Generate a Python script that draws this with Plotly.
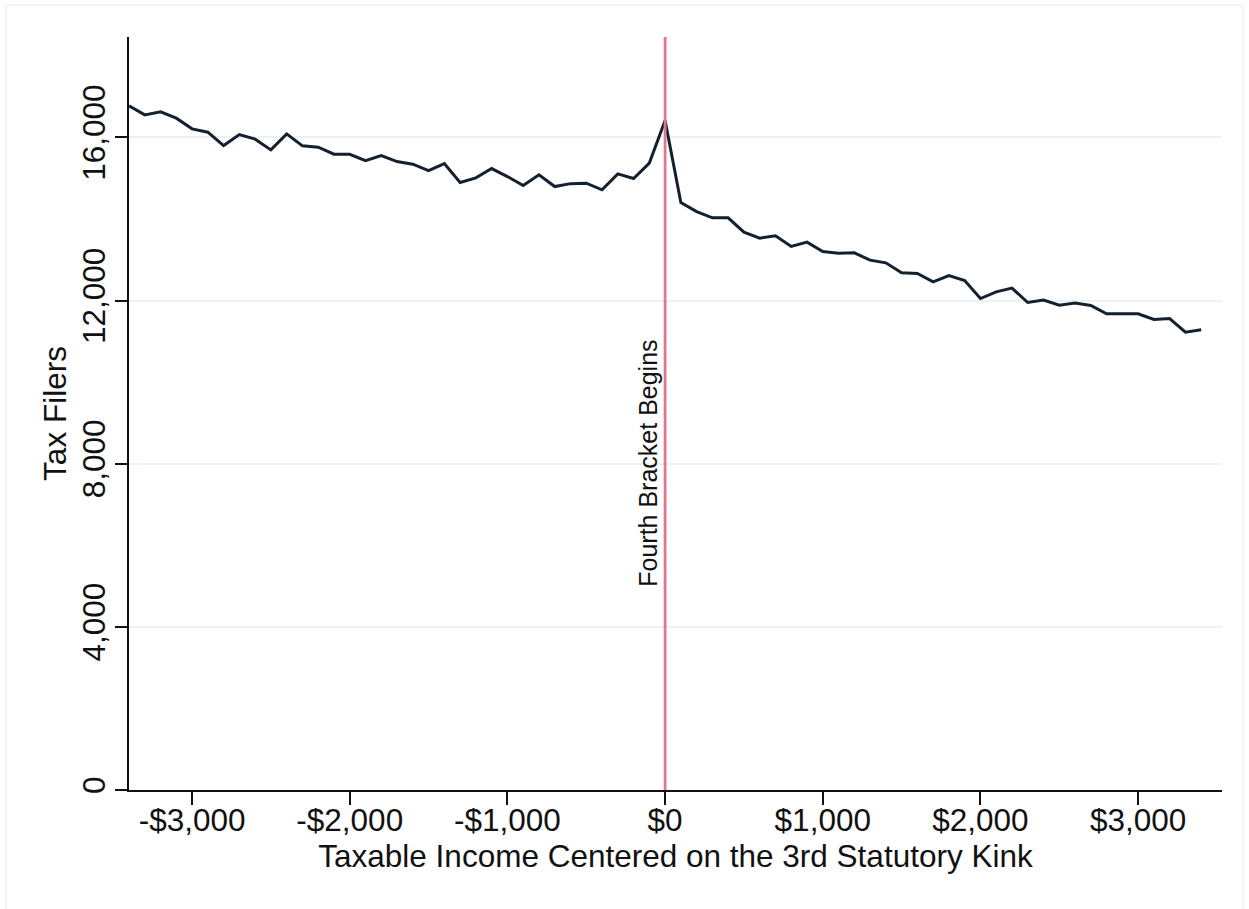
import plotly.graph_objects as go

# Taxable income bins (dollars relative to the kink) and filer counts
income_bins = list(range(-3400, 3401, 100))
tax_filers = [
    16772, 16551, 16625, 16470, 16208, 16127, 15799, 16069, 15955, 15693,
    16085, 15791, 15760, 15588, 15585, 15431, 15554, 15407, 15343, 15186,
    15358, 14892, 15007, 15235, 15039, 14819, 15081, 14794, 14865, 14877,
    14713, 15105, 14990, 15368, 16412, 14402, 14181, 14027, 14027, 13676,
    13529, 13586, 13325, 13431, 13201, 13161, 13169, 12990, 12924, 12679,
    12662, 12458, 12613, 12490, 12049, 12213, 12304, 11951, 12010, 11887,
    11936, 11877, 11674, 11674, 11674, 11534, 11559, 11225, 11282,
]
x_ticks = [-3000, -2000, -1000, 0, 1000, 2000, 3000]
x_tick_labels = ["-$3,000", "-$2,000", "-$1,000", "$0", "$1,000", "$2,000", "$3,000"]
y_ticks = [0, 4000, 8000, 12000, 16000]
y_tick_labels = ["0", "4,000", "8,000", "12,000", "16,000"]
kink = 0

FONT = "Liberation Sans, Arial, sans-serif"
W, H = 1249, 909
L, R, T, B = 129, 1222, 37, 790

fig = go.Figure()
fig.add_trace(go.Scatter(
    x=income_bins, y=tax_filers, mode="lines",
    line=dict(color="#14202e", width=3),
    hoverinfo="x+y", showlegend=False,
))

# Threshold marker
fig.add_shape(type="line", xref="x", yref="paper", x0=kink, x1=kink, y0=0, y1=1,
              line=dict(color="#e07890", width=2.8), layer="above")
fig.add_annotation(x=kink, y=8000, xref="x", yref="y", text="Fourth Bracket Begins",
                   textangle=-90, showarrow=False, xanchor="right", yanchor="middle",
                   xshift=-1, font=dict(family=FONT, size=25, color="#111111"))

# Faint outer frame
pw, ph = R - L, B - T
fig.add_shape(type="rect", xref="paper", yref="paper",
              x0=(6 - L) / pw, x1=(1243 - L) / pw,
              y0=(B - 913) / ph, y1=(B - 5) / ph,
              line=dict(color="#e6eef2", width=1.2), layer="below")

fig.update_layout(
    width=W, height=H,
    margin=dict(l=L, r=W - R, t=T, b=H - B, pad=0),
    paper_bgcolor="white", plot_bgcolor="white",
    font=dict(family=FONT, size=31.5, color="#111111"),
    xaxis=dict(
        range=[-3400, 3532], tickmode="array", tickvals=x_ticks, ticktext=x_tick_labels,
        showgrid=False, zeroline=False, showline=True, linecolor="#111111", linewidth=2,
        ticks="outside", ticklen=13, tickwidth=2, tickcolor="#111111",
        tickfont=dict(size=31.5), ticklabelstandoff=-12,
        title=dict(text="Taxable Income Centered on the 3rd Statutory Kink",
                   font=dict(size=31.5), standoff=0),
    ),
    yaxis=dict(
        range=[0, 18460], tickmode="array", tickvals=y_ticks, ticktext=y_tick_labels,
        showgrid=True, gridcolor="#eaf2f3", gridwidth=2, zeroline=False,
        showline=True, linecolor="#111111", linewidth=2,
        ticks="outside", ticklen=12, tickwidth=2, tickcolor="#111111",
        tickangle=-90, tickfont=dict(size=31.5), ticklabelstandoff=-3,
        title=dict(text="Tax Filers", font=dict(size=31.5), standoff=0),
    ),
)

fig.write_html("out.html")
